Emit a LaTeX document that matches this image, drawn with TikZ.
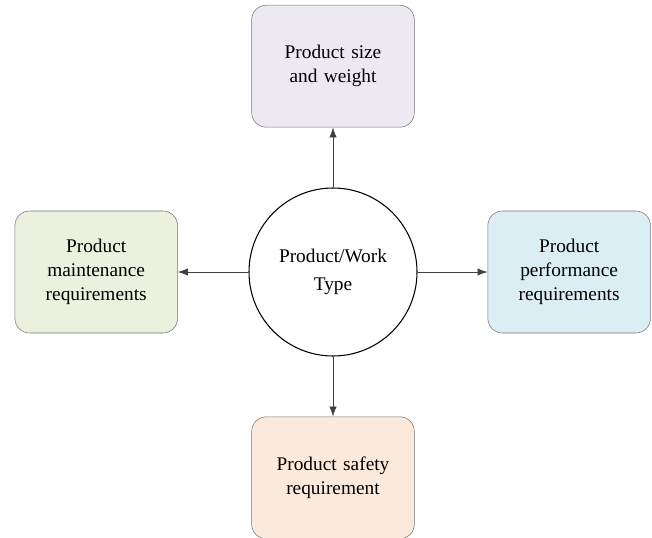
\documentclass[tikz,border=0pt]{standalone}
\usepackage{fontspec}
\setmainfont{Liberation Serif}
\usetikzlibrary{positioning, arrows.meta}
\definecolor{sizefill}{HTML}{ECE9F1}
\definecolor{maintfill}{HTML}{EBF1DE}
\definecolor{perffill}{HTML}{DBEEF4}
\definecolor{safetyfill}{HTML}{FBE9DB}
\tikzstyle{arrow} = [line width=0.5pt, draw=black!75, -{Latex[length=7.5pt, width=5.5pt]}]
\tikzstyle{reqbox} = [rectangle, rounded corners=11pt, minimum width=122pt, minimum height=91.5pt, text width=110pt, align=center, draw=black!55, font=\fontsize{14.5}{18}\selectfont]
\tikzstyle{hub} = [circle, minimum size=126pt, draw=black, thick, align=center, font=\fontsize{14.5}{21.5}\selectfont]

\begin{document}
\begin{tikzpicture}[x=0.75pt, y=0.75pt]
\useasboundingbox (0,0) rectangle (652,537);

\node (type) [hub] at (333,265) {Product/Work\\Type};
\node (size) [reqbox, fill=sizefill, above=45pt of type] {Product size\\and weight};
\node (maint) [reqbox, fill=maintfill, left=53pt of type] {Product\\maintenance\\requirements};
\node (perf) [reqbox, fill=perffill, right=52.5pt of type] {Product\\performance\\requirements};
\node (safety) [reqbox, fill=safetyfill, below=45pt of type] {Product safety\\requirement};

\draw [arrow] (type) -- (size);
\draw [arrow] (type) -- (maint);
\draw [arrow] (type) -- (perf);
\draw [arrow] (type) -- (safety);
\end{tikzpicture}
\end{document}
